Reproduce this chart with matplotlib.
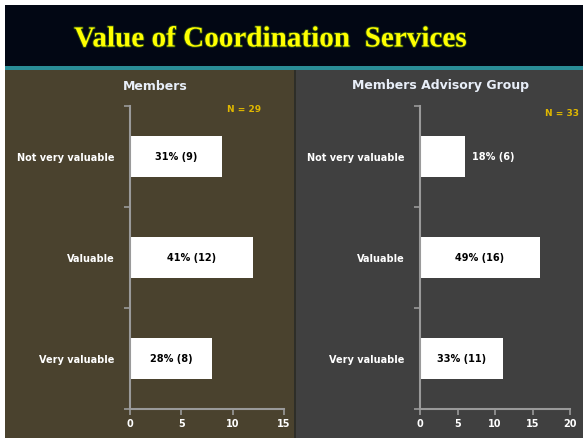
import matplotlib
matplotlib.use("Agg")
from matplotlib import pyplot as plt
from matplotlib.patches import Rectangle
import matplotlib.patheffects as pe
import numpy as np

categories = ["Very valuable", "Valuable", "Not very valuable"]
members = [8, 12, 9]
members_lbl = ["28% (8)", "41% (12)", "31% (9)"]
advisory = [11, 16, 6]
advisory_lbl = ["33% (11)", "49% (16)", "18% (6)"]
members_ticks = [0, 5, 10, 15]
advisory_ticks = [0, 5, 10, 15, 20]

W, H = 583, 440
fig = plt.figure(figsize=(W / 100, H / 100), dpi=100)
fig.patch.set_facecolor("white")

def px(x0, y0, x1, y1):
    # pixel box (top-left origin) -> figure fraction rect
    return [x0 / W, 1 - y1 / H, (x1 - x0) / W, (y1 - y0) / H]

def box(x0, y0, x1, y1, color):
    r = px(x0, y0, x1, y1)
    fig.patches.append(Rectangle((r[0], r[1]), r[2], r[3], transform=fig.transFigure,
                                 facecolor=color, edgecolor="none", zorder=-5))

# backgrounds
box(5, 5, 583, 66, "#020714")
box(5, 66, 583, 70, "#2a8c96")
box(5, 70, 295, 438, "#4a422e")
box(295, 70, 583, 438, "#404040")
box(294, 70, 296, 438, "#2e2e28")

fig.text(270 / W, 1 - 39 / H, "Value of Coordination  Services", ha="center", va="center",
         color="#ffff00", fontsize=21, fontweight="bold", family="Liberation Serif",
         path_effects=[pe.withStroke(linewidth=1.3, foreground="#2a4a10")])

def panel(rect, vals, lbls, ticks, xmax, title, title_x, ntxt, n_xy, outside=()):
    ax = fig.add_axes(px(*rect))
    ax.set_zorder(2)
    ax.set_facecolor("none")
    y = np.arange(len(categories))
    ax.barh(y, vals, height=0.4, color="white", edgecolor="none")
    ax.set_xlim(0, xmax)
    ax.set_ylim(-0.5, len(categories) - 0.5)
    ax.set_xticks(ticks)
    ax.set_xticklabels([str(t) for t in ticks])
    ax.set_yticks(np.arange(-0.5, len(categories), 1.0), minor=False)
    ax.set_yticklabels([])
    ax.set_yticks(y, minor=True)
    ax.set_yticklabels(categories, minor=True)
    ax.tick_params(axis="y", which="minor", length=0, pad=11, labelcolor="white", labelsize=7)
    ax.tick_params(axis="y", which="major", length=4, color="#9a9a9a", width=1.2)
    ax.tick_params(axis="x", length=4, color="#9a9a9a", width=1.2, labelcolor="white",
                   labelsize=7)
    for lab in ax.get_yticklabels(minor=True) + ax.get_xticklabels():
        lab.set_fontweight("bold")
    for s in ["top", "right"]:
        ax.spines[s].set_visible(False)
    for s in ["left", "bottom"]:
        ax.spines[s].set_color("#9a9a9a")
        ax.spines[s].set_linewidth(1.5)
    for i, (v, l) in enumerate(zip(vals, lbls)):
        if i in outside:
            ax.text(v + xmax * 0.05, i, l, ha="left", va="center", color="white",
                    fontsize=7, fontweight="bold")
        else:
            ax.text(v / 2, i, l, ha="center", va="center", color="black",
                    fontsize=7, fontweight="bold")
    fig.text(title_x / W, 1 - 86 / H, title, ha="center", va="center", color="#e8eef8",
             fontsize=9, fontweight="bold")
    fig.text(n_xy[0] / W, 1 - n_xy[1] / H, ntxt, ha="center", va="center", color="#e0b800",
             fontsize=6.5, fontweight="bold")
    return ax

panel((130, 106, 284, 409), members, members_lbl, members_ticks, 15, "Members", 155,
      "N = 29", (244, 109))
panel((420, 106, 570, 409), advisory, advisory_lbl, advisory_ticks, 20,
      "Members Advisory Group", 441, "N = 33", (562, 113), outside=(2,))

fig.savefig("out.png", dpi=100, facecolor=fig.get_facecolor())
